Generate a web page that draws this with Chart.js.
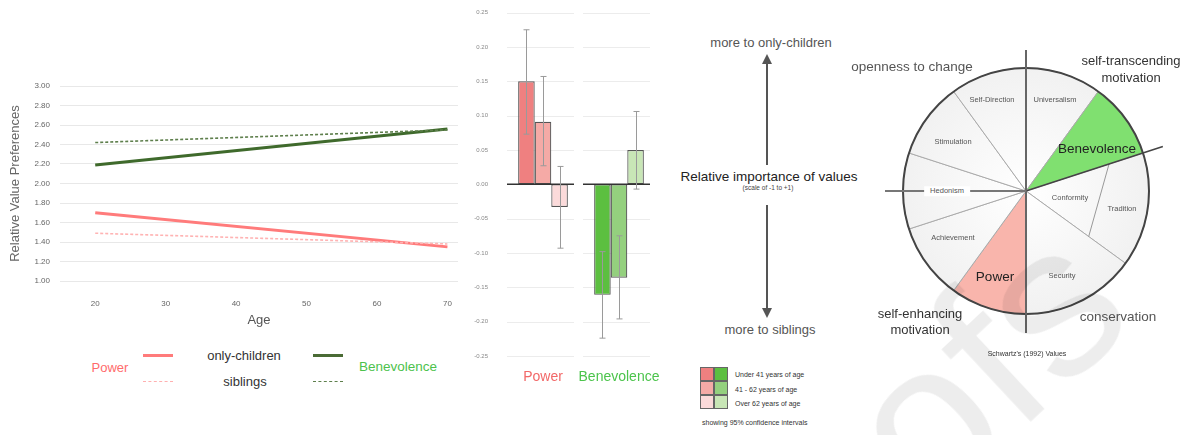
<!DOCTYPE html>
<html>
<head>
<meta charset="utf-8">
<script src="https://cdn.jsdelivr.net/npm/chart.js@4.4.1/dist/chart.umd.min.js"></script>
<style>
  html, body { margin: 0; padding: 0; background: #fff; width: 1192px; height: 435px; overflow: hidden;
    font-family: "Liberation Sans", Arial, sans-serif; }
  canvas { position: absolute; }
  .t { position: absolute; transform: translate(-50%, -50%); white-space: nowrap; line-height: 1; }
  .l { position: absolute; transform: translateY(-50%); white-space: nowrap; line-height: 1; }
  .sw { position: absolute; width: 14px; height: 14px; box-sizing: border-box; border: 1px solid #666; }
  .mark { position: absolute; width: 30px; }
  .wm { position: absolute; transform: translate(-50%, -50%) rotate(-43deg); font-size: 215px; font-weight: normal;
    color: rgba(0,0,0,0.07); white-space: nowrap; line-height: 1; pointer-events: none; z-index: 10; }
</style>
</head>
<body>

<canvas id="trend" width="470" height="270" style="left:0;top:60px"></canvas>
<canvas id="bars" width="210" height="385" style="left:460px;top:0"></canvas>
<canvas id="circle" width="310" height="310" style="left:871px;top:36px"></canvas>

<!-- legend of the age trend chart -->
<div class="t" style="left:110px;top:367px;font-size:13px;color:#ff6b6b">Power</div>
<div class="mark" style="left:143px;top:354px;border-top:3px solid #ff7b7b"></div>
<div class="mark" style="left:143px;top:381px;border-top:1.5px dashed #ffb0b0"></div>
<div class="t" style="left:244px;top:355px;font-size:13px;color:#333">only-children</div>
<div class="t" style="left:245px;top:381px;font-size:13px;color:#333">siblings</div>
<div class="mark" style="left:313px;top:354px;border-top:3px solid #4a6b35"></div>
<div class="mark" style="left:313px;top:381px;border-top:1.5px dashed #5e7f4c"></div>
<div class="t" style="left:398px;top:367px;font-size:13.5px;color:#4cc24c">Benevolence</div>

<!-- direction guide -->
<div class="t" style="left:771px;top:42px;font-size:13px;color:#555">more to only-children</div>
<svg style="position:absolute;left:747px;top:50px" width="40" height="275">
  <g stroke="#555" stroke-width="2" fill="#555">
    <line x1="20" y1="12" x2="20" y2="115"/>
    <polygon points="20,4 15,14 25,14" stroke="none"/>
    <line x1="20" y1="155" x2="20" y2="258"/>
    <polygon points="20,268 15,258 25,258" stroke="none"/>
  </g>
</svg>
<div class="t" style="left:769px;top:177px;font-size:13.5px;color:#222">Relative importance of values</div>
<div class="t" style="left:768px;top:188px;font-size:6.5px;color:#444">(scale of -1 to +1)</div>
<div class="t" style="left:770px;top:329px;font-size:13px;color:#555">more to siblings</div>

<!-- age group key -->
<div class="sw" style="left:700px;top:367px;background:#ef8080"></div>
<div class="sw" style="left:714px;top:367px;background:#5cbf40"></div>
<div class="sw" style="left:700px;top:381px;background:#f5aaa6"></div>
<div class="sw" style="left:714px;top:381px;background:#94d07e"></div>
<div class="sw" style="left:700px;top:395px;background:#fbdada"></div>
<div class="sw" style="left:714px;top:395px;background:#c8e6b6"></div>
<div id="ageKey"></div>
<div class="l" style="left:702px;top:422px;font-size:7px;color:#333">showing 95% confidence intervals</div>

<!-- value circle annotations -->
<div id="circleLabels"></div>
<div class="t" style="left:912px;top:67px;font-size:13.5px;color:#555">openness to change</div>
<div class="t" style="left:1131px;top:60px;font-size:13px;color:#333">self-transcending</div>
<div class="t" style="left:1131px;top:77px;font-size:13px;color:#333">motivation</div>
<div class="t" style="left:920px;top:313px;font-size:13px;color:#333">self-enhancing</div>
<div class="t" style="left:920px;top:329px;font-size:13px;color:#333">motivation</div>
<div class="t" style="left:1118px;top:317px;font-size:13.5px;color:#555">conservation</div>
<div class="t" style="left:1027px;top:353px;font-size:7px;color:#333">Schwartz's (1992) Values</div>

<div class="wm" style="left:870px;top:470px">proofs</div>

<script>
// ---- age trend of value preferences ----
const ages = [20, 70];
const ageTicks = [20, 30, 40, 50, 60, 70];
const powerOnlyChildren = [1.70, 1.35];
const powerSiblings = [1.49, 1.38];
const benevolenceOnlyChildren = [2.19, 2.56];
const benevolenceSiblings = [2.42, 2.55];

// ---- only-child minus sibling differences by age group ----
const valueGroups = ['Power', 'Benevolence'];
const ageGroups = ['Under 41 years of age', '41 - 62 years of age', 'Over 62 years of age'];
const diffUnder41 = [0.150, -0.161];
const diffMid = [0.091, -0.136];
const diffOver62 = [-0.033, 0.050];
const ciLowUnder41 = [0.073, -0.224];
const ciHighUnder41 = [0.225, -0.098];
const ciLowMid = [0.027, -0.196];
const ciHighMid = [0.157, -0.075];
const ciLowOver62 = [-0.093, -0.007];
const ciHighOver62 = [0.026, 0.106];

// ---- Schwartz value circle (sectors clockwise from 12 o'clock) ----
const circleValues = ['Universalism', 'Benevolence', 'Conformity / Tradition', 'Security', 'Power',
  'Achievement', 'Hedonism', 'Stimulation', 'Self-Direction'];
const circleSpans = [1, 1, 1.5, 1.5, 1, 1, 1, 1, 1];

const FONT = '"Liberation Sans", Arial, sans-serif';
Chart.defaults.font.family = FONT;
Chart.defaults.animation = false;
Chart.defaults.plugins.legend.display = false;
Chart.defaults.plugins.tooltip.enabled = false;

const toPoints = ys => ages.map((a, i) => ({ x: a, y: ys[i] }));

new Chart(document.getElementById('trend'), {
  type: 'line',
  data: {
    datasets: [
      { data: toPoints(benevolenceSiblings), borderColor: '#5e7f4c', borderWidth: 1.6, borderDash: [3, 2] },
      { data: toPoints(benevolenceOnlyChildren), borderColor: '#3f6a2c', borderWidth: 3 },
      { data: toPoints(powerSiblings), borderColor: '#ffb3b3', borderWidth: 1.6, borderDash: [3, 2] },
      { data: toPoints(powerOnlyChildren), borderColor: '#ff7b7b', borderWidth: 3 }
    ]
  },
  options: {
    responsive: false,
    elements: { point: { radius: 0 } },
    layout: { padding: { top: 26, right: 12, left: 0, bottom: 0 } },
    scales: {
      x: {
        type: 'linear', min: 15, max: 71.5,
        afterBuildTicks: s => { s.ticks = ageTicks.map(v => ({ value: v })); },
        afterFit: s => { s.height = 49; },
        grid: { display: false }, border: { display: false },
        ticks: { font: { size: 8 }, color: '#666', padding: 10 },
        title: { display: true, text: 'Age', font: { size: 13 }, color: '#555', padding: { top: 0, bottom: 2 } }
      },
      y: {
        min: 1, max: 3,
        afterFit: s => { s.width = 60; },
        ticks: { stepSize: 0.2, callback: v => v.toFixed(2), font: { size: 8 }, color: '#666', padding: 10 },
        grid: { color: '#e8e8e8', drawTicks: false }, border: { display: false },
        title: { display: true, text: 'Relative Value Preferences', font: { size: 13 }, color: '#666',
          padding: { top: 8, bottom: 0 } }
      }
    }
  }
});

// gridlines and zero line drawn per value group, plus confidence interval whiskers
const groupGrid = {
  id: 'groupGrid',
  beforeDatasetsDraw(chart) {
    const { ctx, scales: { x, y } } = chart;
    ctx.save();
    ctx.strokeStyle = '#ececec';
    ctx.lineWidth = 1;
    y.ticks.forEach(t => {
      const py = Math.round(y.getPixelForValue(t.value)) + 0.5;
      x.ticks.forEach((_, i) => {
        const cx = x.getPixelForValue(i);
        ctx.beginPath(); ctx.moveTo(cx - 36, py); ctx.lineTo(cx + 31, py); ctx.stroke();
      });
    });
    ctx.restore();
  },
  afterDatasetsDraw(chart) {
    const { ctx, scales: { x, y } } = chart;
    ctx.save();
    const y0 = y.getPixelForValue(0);
    ctx.strokeStyle = '#333';
    ctx.lineWidth = 1.5;
    x.ticks.forEach((_, i) => {
      const cx = x.getPixelForValue(i);
      ctx.beginPath(); ctx.moveTo(cx - 36, y0); ctx.lineTo(cx + 31, y0); ctx.stroke();
    });
    ctx.strokeStyle = '#9a9a9a';
    ctx.lineWidth = 1;
    chart.data.datasets.forEach((ds, di) => {
      chart.getDatasetMeta(di).data.forEach((bar, i) => {
        const lo = y.getPixelForValue(ds.ciLow[i]);
        const hi = y.getPixelForValue(ds.ciHigh[i]);
        const bx = Math.round(bar.x) + 0.5;
        ctx.beginPath();
        ctx.moveTo(bx, lo); ctx.lineTo(bx, hi);
        ctx.moveTo(bx - 3, lo); ctx.lineTo(bx + 3, lo);
        ctx.moveTo(bx - 3, hi); ctx.lineTo(bx + 3, hi);
        ctx.stroke();
      });
    });
    ctx.restore();
  }
};

new Chart(document.getElementById('bars'), {
  type: 'bar',
  data: {
    labels: valueGroups,
    datasets: [
      { label: ageGroups[0], data: diffUnder41, ciLow: ciLowUnder41, ciHigh: ciHighUnder41,
        backgroundColor: ['#ef8080', '#5cbf40'] },
      { label: ageGroups[1], data: diffMid, ciLow: ciLowMid, ciHigh: ciHighMid,
        backgroundColor: ['#f5aaa6', '#94d07e'] },
      { label: ageGroups[2], data: diffOver62, ciLow: ciLowOver62, ciHigh: ciHighOver62,
        backgroundColor: ['#fbdada', '#c8e6b6'] }
    ]
  },
  options: {
    responsive: false,
    categoryPercentage: 0.654,
    barPercentage: 1.0,
    elements: { bar: { borderColor: '#555', borderWidth: 1.2, borderSkipped: false } },
    layout: { padding: { top: 12, right: 13, left: 0, bottom: 0 } },
    scales: {
      x: {
        afterFit: s => { s.height = 29; },
        grid: { display: false }, border: { display: false },
        ticks: { font: { size: 14 }, padding: 5, maxRotation: 0, minRotation: 0, autoSkip: false,
          color: c => (c.index === 0 ? '#f26868' : '#4cc44c') }
      },
      y: {
        min: -0.25, max: 0.25,
        afterFit: s => { s.width = 45; },
        grid: { display: false }, border: { display: false },
        ticks: { stepSize: 0.05, callback: v => v.toFixed(2), font: { size: 6 }, color: '#888', padding: 9 }
      }
    }
  },
  plugins: [groupGrid]
});

// key text for the age groups
document.getElementById('ageKey').innerHTML = ageGroups.map((g, i) =>
  `<div class="l" style="left:735px;top:${374 + i * 14.5}px;font-size:7px;color:#333">${g}</div>`).join('');

// outer ring, axis lines and the conformity / tradition divider
const circleOverlay = {
  id: 'circleOverlay',
  afterDatasetsDraw(chart) {
    const { ctx } = chart;
    const arcs = chart.getDatasetMeta(0).data;
    const cx = arcs[0].x, cy = arcs[0].y, r = arcs[0].outerRadius;
    const pt = (a, rr) => [cx + rr * Math.cos(a), cy + rr * Math.sin(a)];
    ctx.save();
    ctx.lineCap = 'butt';
    // divider inside the conformity / tradition sector
    const a1 = arcs[1].endAngle, a2 = arcs[2].endAngle;
    ctx.strokeStyle = '#999'; ctx.lineWidth = 1;
    ctx.beginPath(); ctx.moveTo(...pt(a1, r * 0.71)); ctx.lineTo(...pt(a2, r * 0.63)); ctx.stroke();
    // outer ring
    ctx.strokeStyle = '#444'; ctx.lineWidth = 2;
    ctx.beginPath(); ctx.arc(cx, cy, r, 0, Math.PI * 2); ctx.stroke();
    // transcendence boundary extended past the ring
    ctx.strokeStyle = '#444'; ctx.lineWidth = 1.5;
    ctx.beginPath(); ctx.moveTo(cx, cy); ctx.lineTo(...pt(a1, r * 1.17)); ctx.stroke();
    // vertical and horizontal axes
    ctx.strokeStyle = '#666'; ctx.lineWidth = 2;
    ctx.beginPath(); ctx.moveTo(cx, cy - 141); ctx.lineTo(cx, cy + 142); ctx.stroke();
    ctx.strokeStyle = '#777';
    ctx.beginPath(); ctx.moveTo(cx - 141, cy); ctx.lineTo(cx, cy); ctx.stroke();
    ctx.restore();
  }
};

const neutralFill = c => {
  const area = c.chart.chartArea;
  if (!area) return '#f7f7f7';
  const x = (area.left + area.right) / 2, y = (area.top + area.bottom) / 2;
  const g = c.chart.ctx.createRadialGradient(x, y, 0, x, y, 125);
  g.addColorStop(0, '#ffffff');
  g.addColorStop(1, '#f1f1f1');
  return g;
};

new Chart(document.getElementById('circle'), {
  type: 'pie',
  data: {
    labels: circleValues,
    datasets: [{
      data: circleSpans,
      backgroundColor: c => {
        const name = circleValues[c.dataIndex];
        if (name === 'Benevolence') return '#80e070';
        if (name === 'Power') return '#f9b5ac';
        return neutralFill(c);
      },
      borderColor: '#aaa',
      borderWidth: 1
    }]
  },
  options: { responsive: false, radius: 123 },
  plugins: [circleOverlay]
});

// sector names written on the circle
const circleText = [
  ['Universalism', 1055, 100, 7.5, '#555', false],
  ['Self-Direction', 992, 100, 7.5, '#555', false],
  ['Stimulation', 953, 142, 7.5, '#555', false],
  ['Benevolence', 1097, 149, 13.5, '#222', false],
  ['Hedonism', 947, 191, 7.5, '#555', true],
  ['Conformity', 1070, 198, 7.5, '#555', false],
  ['Tradition', 1122, 209, 7.5, '#555', false],
  ['Achievement', 953, 238, 7.5, '#555', false],
  ['Power', 995, 277, 13.5, '#222', false],
  ['Security', 1062, 276, 7.5, '#555', false]
];
document.getElementById('circleLabels').innerHTML = circleText.map(([s, x, y, f, col, bg]) =>
  `<div class="t" style="left:${x}px;top:${y}px;font-size:${f}px;color:${col};z-index:2;` +
  `${bg ? 'background:#fff;padding:1px 6px;' : ''}">${s}</div>`).join('');
</script>
</body>
</html>
